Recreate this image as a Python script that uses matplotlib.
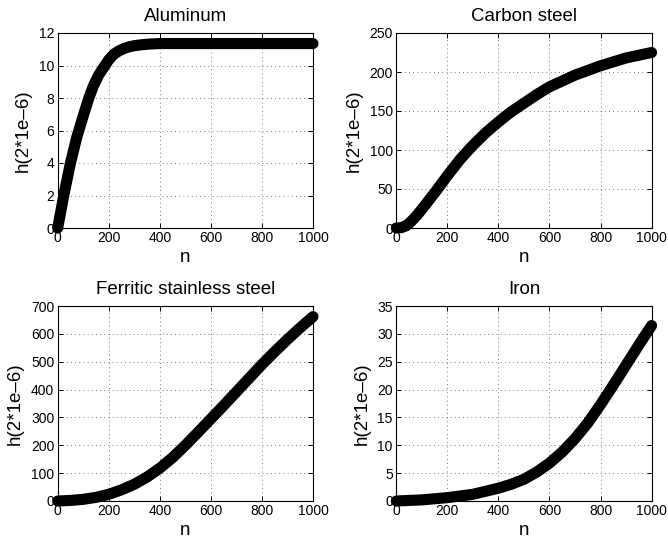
import matplotlib
matplotlib.use('Agg')
import matplotlib.pyplot as plt

plt.rcParams['font.family'] = ['Liberation Sans', 'DejaVu Sans']

# values
n_al = [0, 25, 50, 75, 100, 122, 140, 160, 185, 200, 220, 240, 260, 280, 300, 330, 360, 400, 500, 600, 700, 800, 900, 1000]
h_al = [0, 2.1, 4.0, 5.6, 6.9, 8, 8.75, 9.4, 10, 10.35, 10.7, 10.9, 11.05, 11.15, 11.22, 11.28, 11.32, 11.35,
        11.35, 11.35, 11.35, 11.35, 11.35, 11.35]

n_cs = [0, 20, 40, 60, 80, 100, 150, 200, 250, 300, 350, 400, 450, 500, 550, 600, 700, 800, 900, 1000]
h_cs = [0, 0.5, 3, 9, 16, 24, 45, 67, 88, 106, 122, 136, 149, 160, 171, 181, 196, 208, 218, 225]

n_fe = [0, 50, 100, 150, 200, 250, 300, 350, 400, 450, 500, 550, 600, 650, 700, 750, 800, 850, 900, 950, 1000]
h_fe = [0, 2, 6, 13, 24, 40, 60, 86, 118, 156, 200, 247, 295, 343, 392, 441, 490, 536, 580, 622, 662]

n_ir = [0, 100, 200, 300, 400, 450, 500, 550, 600, 650, 700, 750, 800, 850, 900, 950, 1000]
h_ir = [0, 0.2, 0.6, 1.2, 2.3, 3.0, 3.9, 5.2, 6.8, 8.8, 11.2, 14.0, 17.3, 20.8, 24.4, 28.0, 31.5]

titles = ['Aluminum', 'Carbon steel', 'Ferritic stainless steel', 'Iron']
ylims = [12, 250, 700, 35]
yticks = [range(0, 13, 2), range(0, 251, 50), range(0, 701, 100), range(0, 36, 5)]
xticks = [0, 200, 400, 600, 800, 1000]
series = [(n_al, h_al), (n_cs, h_cs), (n_fe, h_fe), (n_ir, h_ir)]

fig = plt.figure(figsize=(6.68, 5.38), dpi=100)
W, H = 668.0, 538.0
boxes = [(57.7, 33), (396.3, 33), (57.7, 306), (396.3, 306)]

for i in range(4):
    x0, y0 = boxes[i]
    ax = fig.add_axes([x0 / W, 1 - (y0 + 195) / H, 255.3 / W, 195 / H])
    n, h = series[i]
    ax.plot(n, h, color='black', lw=8, solid_capstyle='round',
            solid_joinstyle='round', clip_on=False, zorder=3)
    ax.set_xlim(0, 1000)
    ax.set_ylim(0, ylims[i])
    ax.set_xticks(xticks)
    ax.set_yticks(list(yticks[i]))
    ax.grid(True, linestyle=(0, (1, 4)), color='0.3', lw=0.6)
    ax.tick_params(direction='in', length=3.5, width=0.7, top=True, right=True,
                   labelsize=10, pad=2.5)
    for s in ax.spines.values():
        s.set_linewidth(0.8)
    ax.set_title(titles[i], fontsize=13.5, pad=8.5)
    ax.set_xlabel('n', fontsize=13.5, labelpad=2.5)
    ax.set_ylabel('h(2*1e\u20136)', fontsize=13.5, labelpad=5)

fig.savefig('out.png', dpi=100)
